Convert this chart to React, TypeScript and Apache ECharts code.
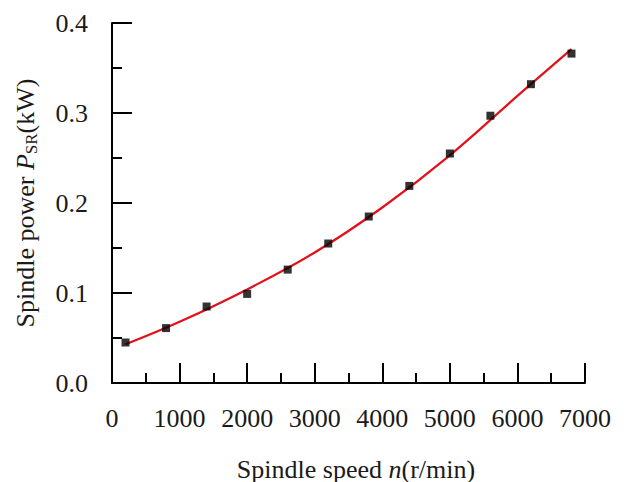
import React, { useEffect, useRef } from "react";
import * as echarts from "echarts";

const speeds = [200, 800, 1400, 2000, 2600, 3200, 3800, 4400, 5000, 5600, 6200, 6800];
const power = [0.045, 0.061, 0.085, 0.099, 0.126, 0.155, 0.185, 0.219, 0.255, 0.297, 0.332, 0.366];
const fitSpeeds = [200, 1000, 2000, 3000, 4000, 5000, 6000, 6800];
const fitPower = [0.043, 0.068, 0.104, 0.145, 0.195, 0.253, 0.319, 0.371];

const FONT = "'Liberation Serif', 'Times New Roman', serif";

export default function App() {
  const ref = useRef<HTMLDivElement>(null);
  useEffect(() => {
    if (!ref.current) return;
    const chart = echarts.init(ref.current, null, { renderer: "svg" });
    const axisCommon = {
      axisLine: { show: true, lineStyle: { color: "#000", width: 2 } },
      axisTick: { show: true, inside: true, length: 20, lineStyle: { color: "#000", width: 2 } },
      minorTick: { show: true, splitNumber: 2, length: 10, lineStyle: { color: "#000", width: 2 } },
      splitLine: { show: false },
      minorSplitLine: { show: false },
    };
    chart.setOption({
      animation: false,
      backgroundColor: "#fff",
      grid: { left: 112, right: 55, top: 23, bottom: 99 },
      xAxis: {
        type: "value",
        min: 0,
        max: 7000,
        interval: 1000,
        ...axisCommon,
        axisLabel: {
          fontFamily: FONT,
          fontSize: 26,
          color: "#1a1a1a",
          margin: 22,
          formatter: (v: number) => String(v),
        },
      },
      yAxis: {
        type: "value",
        min: 0,
        max: 0.4,
        interval: 0.1,
        ...axisCommon,
        axisLabel: {
          fontFamily: FONT,
          fontSize: 26,
          color: "#1a1a1a",
          margin: 24,
          formatter: (v: number) => v.toFixed(1),
        },
      },
      graphic: [
        {
          type: "text",
          x: 356,
          y: 469,
          style: {
            text: "{n|Spindle speed }{i|n}{n|(r/min)}",
            align: "center",
            verticalAlign: "middle",
            rich: {
              n: { fontFamily: FONT, fontSize: 26, fill: "#1a1a1a" },
              i: { fontFamily: FONT, fontSize: 26, fontStyle: "italic", fill: "#1a1a1a" },
            },
          },
        },
        {
          type: "text",
          x: 25,
          y: 203,
          rotation: Math.PI / 2,
          style: {
            text: "{n|Spindle power }{i|P}{s|SR}{n|(kW)}",
            align: "center",
            verticalAlign: "middle",
            rich: {
              n: { fontFamily: FONT, fontSize: 26, fill: "#1a1a1a", lineHeight: 30 },
              i: { fontFamily: FONT, fontSize: 26, fontStyle: "italic", fill: "#1a1a1a", lineHeight: 30 },
              s: { fontFamily: FONT, fontSize: 17, fill: "#1a1a1a", lineHeight: 17, verticalAlign: "bottom" },
            },
          },
        },
      ],
      series: [
        {
          type: "line",
          data: fitSpeeds.map((x, i) => [x, fitPower[i]]),
          smooth: 0.4,
          showSymbol: false,
          lineStyle: { color: "#e3101a", width: 2.2 },
          z: 2,
        },
        {
          type: "scatter",
          data: speeds.map((x, i) => [x, power[i]]),
          symbol: "rect",
          symbolSize: 8,
          itemStyle: { color: "#000" },
          z: 3,
        },
      ],
    });
    return () => chart.dispose();
  }, []);
  return <div ref={ref} style={{ width: 640, height: 482, position: "absolute", left: 0, top: 0 }} />;
}
